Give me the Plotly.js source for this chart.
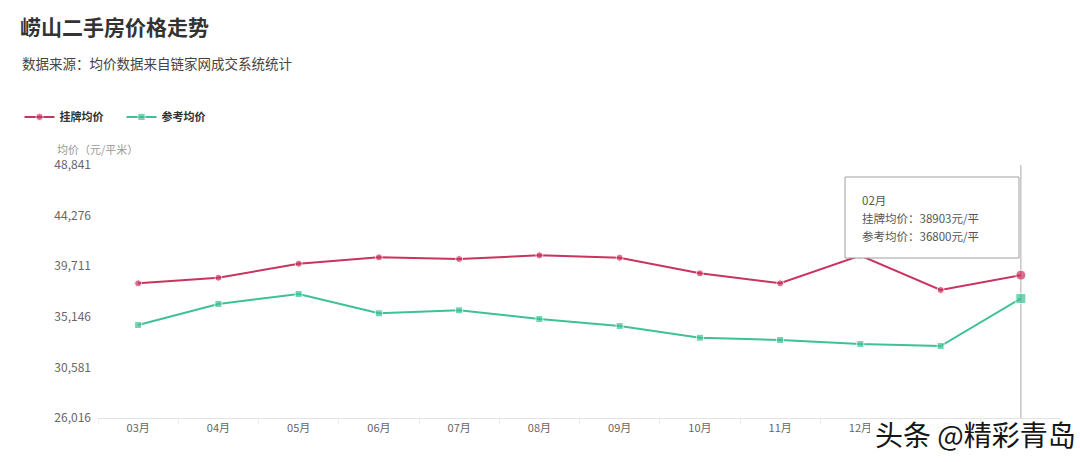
<!DOCTYPE html>
<html>
<head>
<meta charset="utf-8">
<script src="https://cdn.plot.ly/plotly-3.0.1.min.js"></script>
<style>html,body{margin:0;padding:0;background:#fff;}#chart{width:1080px;height:462px;}</style>
</head>
<body>
<div id="chart"></div>
<script>
const months = ["03月","04月","05月","06月","07月","08月","09月","10月","11月","12月","01月","02月"];
const listPrice = [38168, 38673, 39936, 40513, 40360, 40693, 40477, 39069, 38168, 40680, 37563, 38903];
const refPrice  = [34406, 36300, 37202, 35461, 35732, 34947, 34315, 33260, 33052, 32692, 32511, 36800];
const yTicks = [26016, 30581, 35146, 39711, 44276, 48841];
const seriesNames = ["挂牌均价", "参考均价"];
const titleText = "崂山二手房价格走势";
const subtitleText = "数据来源：均价数据来自链家网成交系统统计";
const yTitleText = "均价（元/平米）";
const unitText = "元/平";
const watermark = "头条 @精彩青岛";

const RED = "#c9335f", GREEN = "#3ec193";
const FONT = "'Noto Sans CJK SC', 'Noto Sans', sans-serif";
const last = months.length - 1;
const sizes = months.map((m, i) => i === last ? 10 : 7);

const traces = [
  {x: months, y: listPrice, name: seriesNames[0], type: "scatter", mode: "lines+markers",
   line: {color: RED, width: 2}, marker: {color: RED, symbol: "circle", size: sizes}},
  {x: months, y: refPrice, name: seriesNames[1], type: "scatter", mode: "lines+markers",
   line: {color: GREEN, width: 2}, marker: {color: GREEN, symbol: "square", size: sizes}}
];

const fmt = v => v.toLocaleString("en-US");

const layout = {
  width: 1080, height: 462,
  margin: {l: 98, r: 19, t: 165, b: 44},
  paper_bgcolor: "#fff", plot_bgcolor: "#fff",
  font: {family: FONT, color: "#666"},
  hovermode: false,
  title: {text: "<b>" + titleText + "</b>", x: 20/1080, xanchor: "left", xref: "container",
          y: 1 - 28/462, yanchor: "middle", yref: "container",
          font: {size: 21, color: "#333", family: FONT}},
  showlegend: true,
  legend: {orientation: "h", x: -0.0815, xanchor: "left", y: 1.19, yanchor: "middle",
           font: {size: 11, color: "#333", family: FONT, weight: "bold"},
           itemwidth: 30, entrywidth: 57, entrywidthmode: "pixels", bgcolor: "rgba(0,0,0,0)"},
  xaxis: {type: "category", range: [-0.5, 11.5], showgrid: false, zeroline: false,
          showline: true, linecolor: "#e3e3e3", linewidth: 1,
          ticks: "outside", tickson: "boundaries", ticklen: 5, tickcolor: "#eeeeee",
          tickfont: {size: 11, color: "#666", family: FONT}},
  yaxis: {range: [26016, 48841], tickvals: yTicks, ticktext: yTicks.map(fmt),
          showgrid: false, zeroline: false, showline: false, ticks: "",
          ticklabelstandoff: 6,
          tickfont: {size: 12, color: "#666", family: FONT}},
  shapes: [
    {type: "line", xref: "x", x0: last, x1: last, yref: "paper", y0: 0, y1: 1,
     line: {color: "#aaaaaa", width: 1}, layer: "below"},
    {type: "rect", xref: "paper", yref: "paper",
     x0: (845-98)/963, x1: (1019-98)/963, y0: (418-258)/253, y1: (418-177)/253,
     fillcolor: "#ffffff", line: {color: "#a0a0a0", width: 1}, layer: "above"},
    {type: "rect", xref: "paper", yref: "paper",
     x0: (870-98)/963, x1: (1080-98)/963, y0: (418-421)/253, y1: (418-462)/253,
     fillcolor: "rgba(255,255,255,0.94)", line: {width: 0}, layer: "above"}
  ],
  annotations: [
    {text: subtitleText, xref: "paper", yref: "paper", x: (20-98)/963, y: (418-63)/253,
     xanchor: "left", yanchor: "middle", showarrow: false, font: {size: 13.5, color: "#444", family: FONT}},
    {text: yTitleText, xref: "paper", yref: "paper", x: (55-98)/963, y: (418-149)/253,
     xanchor: "left", yanchor: "middle", showarrow: false, font: {size: 11, color: "#999", family: FONT}},
    {text: months[last], xref: "paper", yref: "paper", x: (860-98)/963, y: (418-200)/253,
     xanchor: "left", yanchor: "middle", showarrow: false, font: {size: 11.5, color: "#555", family: FONT}},
    {text: seriesNames[0] + "：" + listPrice[last] + unitText, xref: "paper", yref: "paper",
     x: (860-98)/963, y: (418-218)/253, xanchor: "left", yanchor: "middle", showarrow: false,
     font: {size: 11.5, color: "#555", family: FONT}},
    {text: seriesNames[1] + "：" + refPrice[last] + unitText, xref: "paper", yref: "paper",
     x: (860-98)/963, y: (418-236)/253, xanchor: "left", yanchor: "middle", showarrow: false,
     font: {size: 11.5, color: "#555", family: FONT}},
    {text: watermark, xref: "paper", yref: "paper", x: (1077-98)/963, y: (418-434)/253,
     xanchor: "right", yanchor: "middle", showarrow: false, borderpad: 0,
     font: {size: 28, color: "#161616", family: FONT, shadow: "1px 1px 1px #ffffff"}}
  ]
};

Plotly.newPlot("chart", traces, layout, {displayModeBar: false, staticPlot: true});
</script>
</body>
</html>
